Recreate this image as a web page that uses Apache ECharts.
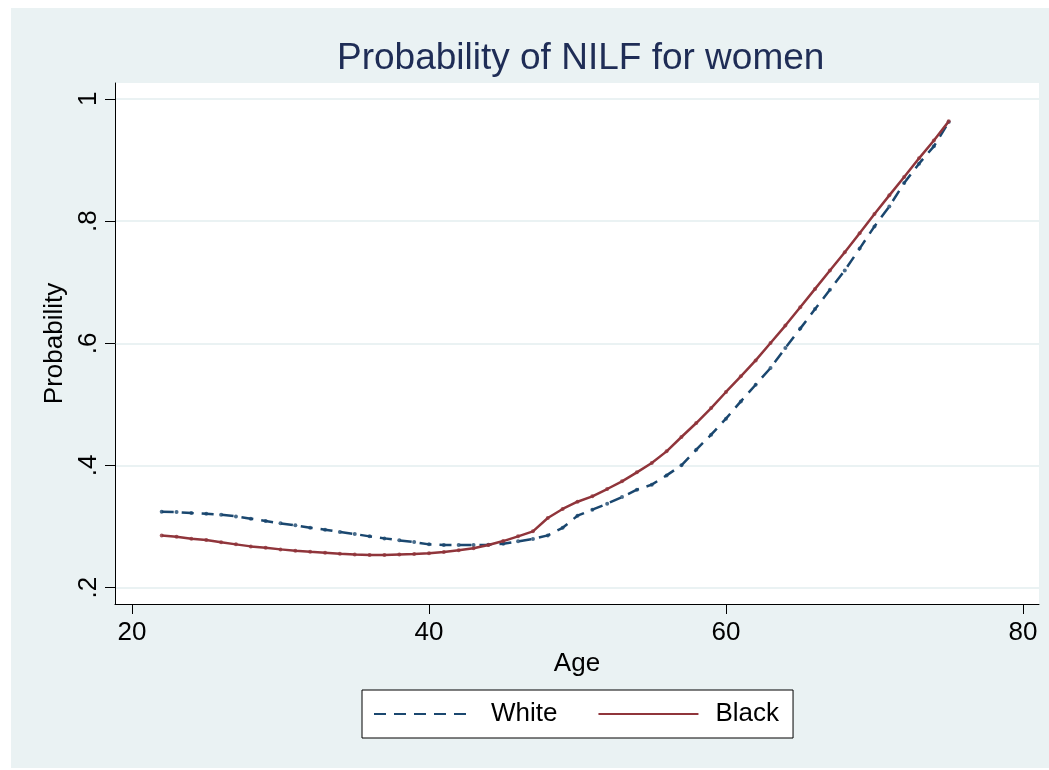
<!DOCTYPE html>
<html>
<head>
    <meta charset="utf-8">
    <title>Probability of NILF for women</title>
    <script src="https://cdn.jsdelivr.net/npm/echarts@6.0.0/dist/echarts.min.js"></script>
    <style>
        body { margin: 0; background: #ffffff; }
        #main { position: absolute; left: 11px; top: 8px; width: 1038px; height: 760px; }
    </style>
</head>
<body>
    <div id="main"></div>

<script>
// ages on the x axis
const ages = [22, 23, 24, 25, 26, 27, 28, 29, 30, 31, 32, 33, 34, 35, 36, 37, 38, 39, 40, 41,
              42, 43, 44, 45, 46, 47, 48, 49, 50, 51, 52, 53, 54, 55, 56, 57, 58, 59, 60, 61,
              62, 63, 64, 65, 66, 67, 68, 69, 70, 71, 72, 73, 74, 75];

// predicted probability, white women
const white = [.3244, .3238, .3222, .3211, .3195, .3167, .3129, .3091, .3053, .3020,
               .2982, .2949, .2911, .2878, .2840, .2807, .2775, .2747, .2709, .2698,
               .2698, .2698, .2704, .2720, .2758, .2796, .2856, .2980, .3178, .3277,
               .3375, .3484, .3604, .3686, .3838, .4002, .4259, .4504, .4766, .5049,
               .5322, .5595, .5923, .6240, .6560, .6877, .7193, .7550, .7913, .8240,
               .8623, .8940, .9223, .9620];

// predicted probability, black women
const black = [.2856, .2835, .2802, .2780, .2742, .2709, .2676, .2655, .2627, .2606,
               .2589, .2573, .2556, .2545, .2535, .2535, .2545, .2550, .2562, .2584,
               .2611, .2644, .2698, .2763, .2840, .2922, .3140, .3288, .3407, .3495,
               .3615, .3740, .3888, .4040, .4231, .4466, .4695, .4940, .5203, .5459,
               .5720, .6005, .6290, .6590, .6890, .7190, .7490, .7800, .8116, .8421,
               .8722, .9027, .9320, .9632];

const xTicks = [20, 40, 60, 80];
const yTicks = [0.2, 0.4, 0.6, 0.8, 1];

const navy = '#1a476f';
const maroon = '#90353b';
const bg = '#eaf2f3';
const font = 'Liberation Sans, Arial, Helvetica, sans-serif';

const pairs = arr => ages.map((a, i) => [a, arr[i]]);

const option = {
    animation: false,
    backgroundColor: bg,
    title: {
        text: 'Probability of NILF for women',
        left: 321,
        top: 27,
        textStyle: { color: '#1f2d56', fontSize: 37, fontWeight: 'normal', fontFamily: font }
    },
    grid: {
        left: 104, right: 10, top: 75, bottom: 164,
        show: true, backgroundColor: '#ffffff', borderWidth: 0
    },
    legend: {
        data: ['White', 'Black'],
        left: 351,
        top: 682,
        padding: [11, 14, 11, 11],
        itemGap: 40,
        itemWidth: 100,
        itemHeight: 14,
        itemStyle: { opacity: 0, borderWidth: 0 },
        borderColor: '#000',
        borderWidth: 1,
        backgroundColor: '#ffffff',
        borderRadius: 0,
        textStyle: { fontSize: 26, color: '#000', fontFamily: font, padding: [0, 0, 0, 12] }
    },
    xAxis: {
        type: 'value',
        min: 18.855,
        max: 81.08,
        name: 'Age',
        nameLocation: 'middle',
        nameGap: 44,
        nameTextStyle: { fontSize: 26, color: '#000', fontFamily: font },
        axisLine: { lineStyle: { color: '#000', width: 1 } },
        axisTick: { length: 10, lineStyle: { color: '#000' }, customValues: xTicks },
        axisLabel: { customValues: xTicks, margin: 16, fontSize: 26, color: '#000', fontFamily: font },
        splitLine: { show: false }
    },
    yAxis: {
        type: 'value',
        min: 0.1733,
        max: 1.026,
        name: 'Probability',
        nameLocation: 'middle',
        nameRotate: 90,
        nameGap: 44,
        nameTextStyle: { fontSize: 26, color: '#000', fontFamily: font },
        axisLine: { show: true, lineStyle: { color: '#000', width: 1 } },
        axisTick: { show: true, length: 10, lineStyle: { color: '#000' }, customValues: yTicks },
        axisLabel: {
            customValues: yTicks,
            rotate: 90,
            margin: 13,
            fontSize: 26,
            color: '#000',
            fontFamily: font,
            formatter: v => (v >= 1 ? '1' : String(+v.toFixed(1)).replace(/^0/, ''))
        },
        splitLine: { show: true, lineStyle: { color: bg, width: 2 } }
    },
    series: [
        {
            name: 'White',
            type: 'line',
            data: pairs(white),
            showSymbol: false,
            symbol: 'none',
            lineStyle: { color: navy, width: 2.5, type: [12, 8] },
            itemStyle: { color: navy },
            z: 2
        },
        {
            name: 'white-pts',
            type: 'scatter',
            data: pairs(white),
            symbol: 'circle',
            symbolSize: 4,
            itemStyle: { color: navy },
            z: 2
        },
        {
            name: 'Black',
            type: 'line',
            data: pairs(black),
            showSymbol: false,
            symbol: 'none',
            lineStyle: { color: maroon, width: 2.5 },
            itemStyle: { color: maroon },
            z: 3
        },
        {
            name: 'black-pts',
            type: 'scatter',
            data: pairs(black),
            symbol: 'circle',
            symbolSize: 4,
            itemStyle: { color: maroon },
            z: 3
        }
    ]
};

const chart = echarts.init(document.getElementById('main'));
chart.setOption(option);
</script>
</body>
</html>
